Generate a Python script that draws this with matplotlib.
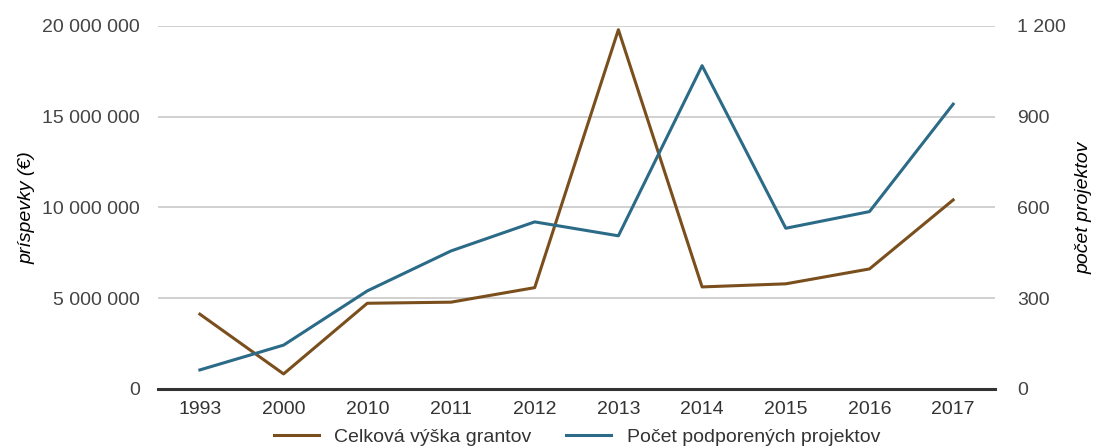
import matplotlib.pyplot as plt
from matplotlib.ticker import FuncFormatter

# Data
years = ["1993", "2000", "2010", "2011", "2012", "2013", "2014", "2015", "2016", "2017"]
grants = [4120000, 830000, 4720000, 4780000, 5580000, 19780000, 5620000, 5790000, 6610000, 10410000]
projects = [63, 145, 324, 456, 552, 506, 1068, 531, 586, 941]

plt.rcParams['font.family'] = ['Liberation Sans', 'DejaVu Sans']

brown = "#7a4f1d"
blue = "#2b6b88"

def space_fmt(v, pos):
    return f"{int(round(v)):,}".replace(",", " ")

fig = plt.figure(figsize=(10.99, 4.48), dpi=100)
ax = fig.add_axes([0.1438, 0.1317, 0.7616, 0.8109])
ax2 = ax.twinx()

x = list(range(len(years)))
l1, = ax.plot(x, grants, color=brown, lw=2.2, label="Celková výška grantov")
l2, = ax2.plot(x, projects, color=blue, lw=2.2, label="Počet podporených projektov")

ax.set_xlim(-0.5, len(years) - 0.5)
ax.set_ylim(0, 20000000)
ax2.set_ylim(0, 1200)
ax.set_yticks([0, 5000000, 10000000, 15000000, 20000000])
ax2.set_yticks([0, 300, 600, 900, 1200])
ax.yaxis.set_major_formatter(FuncFormatter(space_fmt))
ax2.yaxis.set_major_formatter(FuncFormatter(space_fmt))
ax.set_xticks(x)
ax.set_xticklabels(years)

ax.grid(axis='y', color="#c8c8c8", lw=1.2)
ax.set_axisbelow(True)
for a in (ax, ax2):
    for s in a.spines.values():
        s.set_visible(False)
    a.tick_params(length=0, labelsize=14, colors="#444444")
ax.axhline(0, color="#333333", lw=2.2, clip_on=False, zorder=1)
ax.tick_params(axis='y', pad=13)
ax2.tick_params(axis='y', pad=16)
ax.tick_params(axis='x', pad=9, labelcolor="#333333")

ax.set_ylabel("príspevky (€)", fontsize=14, style='italic', labelpad=5)
ax2.set_ylabel("počet projektov", fontsize=14, style='italic', labelpad=7)

fig.legend(handles=[l1, l2], loc='lower center', bbox_to_anchor=(0.525, -0.035), ncol=2,
           frameon=False, fontsize=14, handlelength=2.3, columnspacing=1.8,
           labelcolor="#333333")

fig.savefig("out.png", dpi=100)
